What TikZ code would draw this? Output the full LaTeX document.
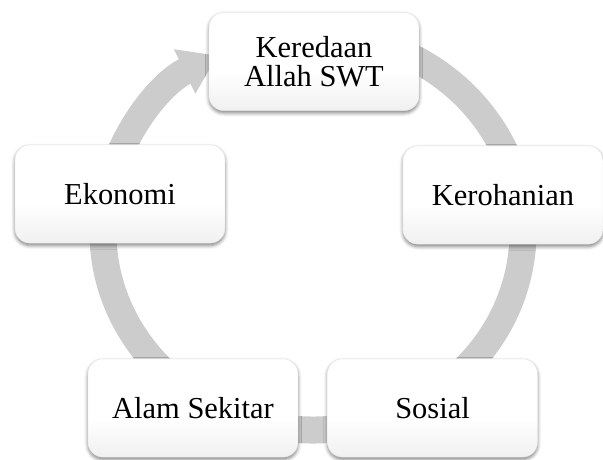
\documentclass[tikz,border=0pt]{standalone}
\usepackage{fontspec}
\setmainfont{Liberation Serif}
\usetikzlibrary{arrows.meta,shadows.blur}
\pgfdeclareverticalshading{boxfade}{100bp}{color(0bp)=(black!13); color(45bp)=(white); color(100bp)=(white)}
\tikzset{%
	cyclebox/.style = {rectangle, rounded corners=0.45cm, draw=gray!20, shading=boxfade, minimum width=6.3cm, minimum height=2.95cm, inner sep=0pt, align=center, font=\fontsize{26}{25}\selectfont, blur shadow={shadow xshift=0pt, shadow yshift=-2pt, shadow blur radius=3pt, shadow opacity=50}},
	band/.style     = {draw=gray!40, line width=0.81cm, -{Triangle[length=1.1cm, width=1.4cm]}},
}
\begin{document}
\begin{tikzpicture}
		\useasboundingbox (0,0) rectangle (18.09,13.8);
		\coordinate (hub) at (9.39,6.84);  % centre of the cycle
		\draw[band] (hub) ++(80:6.3 and 5.94) arc[start angle=80, end angle=-243, x radius=6.3cm, y radius=5.94cm];
		\node[cyclebox] (redha) at (9.42,11.955) {Keredaan\\Allah SWT};
		\node[cyclebox, minimum width=6cm] (rohani) at (15.09,7.95) {Kerohanian};
		\node[cyclebox] (sosial) at (12.975,1.56) {Sosial};
		\node[cyclebox] (alam) at (5.79,1.56) {Alam Sekitar};
		\node[cyclebox] (ekonomi) at (3.6,7.98) {Ekonomi};
\end{tikzpicture}
\end{document}
